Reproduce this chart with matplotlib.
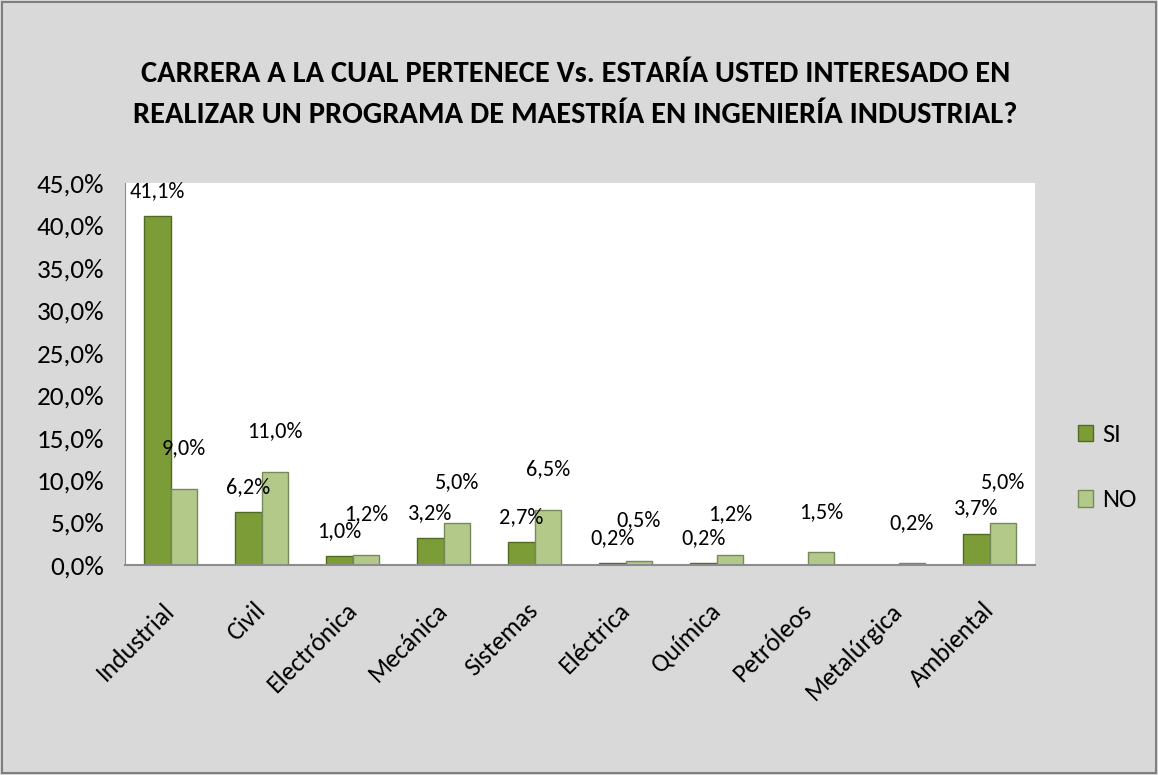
import numpy as np
import matplotlib.pyplot as plt

carreras = ['Industrial', 'Civil', 'Electrónica', 'Mecánica', 'Sistemas',
            'Eléctrica', 'Química', 'Petróleos', 'Metalúrgica', 'Ambiental']
si = [41.1, 6.2, 1.0, 3.2, 2.7, 0.2, 0.2, 0.0, 0.0, 3.7]
no = [9.0, 11.0, 1.2, 5.0, 6.5, 0.5, 1.2, 1.5, 0.2, 5.0]
yticks = [0, 5, 10, 15, 20, 25, 30, 35, 40, 45]

plt.rcParams['font.family'] = ['Carlito', 'Roboto Condensed', 'Liberation Sans Narrow', 'DejaVu Sans']

fig = plt.figure(figsize=(11.58, 7.75), dpi=100, facecolor='#d9d9d9')
ax = fig.add_axes([0.108, 0.271, 0.786, 0.493])
ax.set_facecolor('white')

x = np.arange(len(carreras))
w = 0.29
b1 = ax.bar(x - w/2, si, w, color='#7c9c38', edgecolor='#536a24', linewidth=1, label='SI')
b2 = ax.bar(x + w/2, no, w, color='#b2c98a', edgecolor='#76895a', linewidth=1, label='NO')

def pct(v):
    return ('%.1f%%' % v).replace('.', ',')

for xi, v in zip(x, si):
    if v > 0:
        ax.annotate(pct(v), (xi - w/2, v), xytext=(0, 18), textcoords='offset points',
                    ha='center', va='center', fontsize=16)
for xi, v in zip(x, no):
    if v > 0:
        ax.annotate(pct(v), (xi + w/2, v), xytext=(0, 29), textcoords='offset points',
                    ha='center', va='center', fontsize=16)

ax.set_xlim(-0.5, len(carreras) - 0.5)
ax.set_ylim(0, 45)
ax.set_yticks(yticks)
ax.set_yticklabels([pct(t) for t in yticks], fontsize=19.5)
ax.set_xticks(x)
ax.set_xticklabels(carreras, rotation=45, ha='right', va='center', rotation_mode='anchor', fontsize=18.5)
ax.tick_params(axis='y', length=0, pad=15)
ax.tick_params(axis='x', length=0, pad=30)
for s in ['top', 'right']:
    ax.spines[s].set_visible(False)
ax.spines['left'].set_color('#8c8c8c')
ax.spines['bottom'].set_color('#8c8c8c')
ax.spines['bottom'].set_linewidth(1.5)

fig.text(0.497, 0.904, 'CARRERA A LA CUAL PERTENECE Vs. ESTARÍA USTED INTERESADO EN',
         ha='center', va='center', fontsize=22, fontweight='bold')
fig.text(0.497, 0.851, 'REALIZAR UN PROGRAMA DE MAESTRÍA EN INGENIERÍA INDUSTRIAL?',
         ha='center', va='center', fontsize=22, fontweight='bold')

fig.legend(handles=[b1, b2], loc='center left', bbox_to_anchor=(0.91, 0.397),
           frameon=False, fontsize=19, handlelength=0.6, handleheight=0.6,
           labelspacing=1.6, handletextpad=0.35)

fig.patches.append(plt.Rectangle((0.002, 0.002), 0.996, 0.996, transform=fig.transFigure,
                                 fill=False, edgecolor='#7f7f7f', linewidth=1.5))

fig.savefig('out.png', dpi=100, facecolor=fig.get_facecolor())
